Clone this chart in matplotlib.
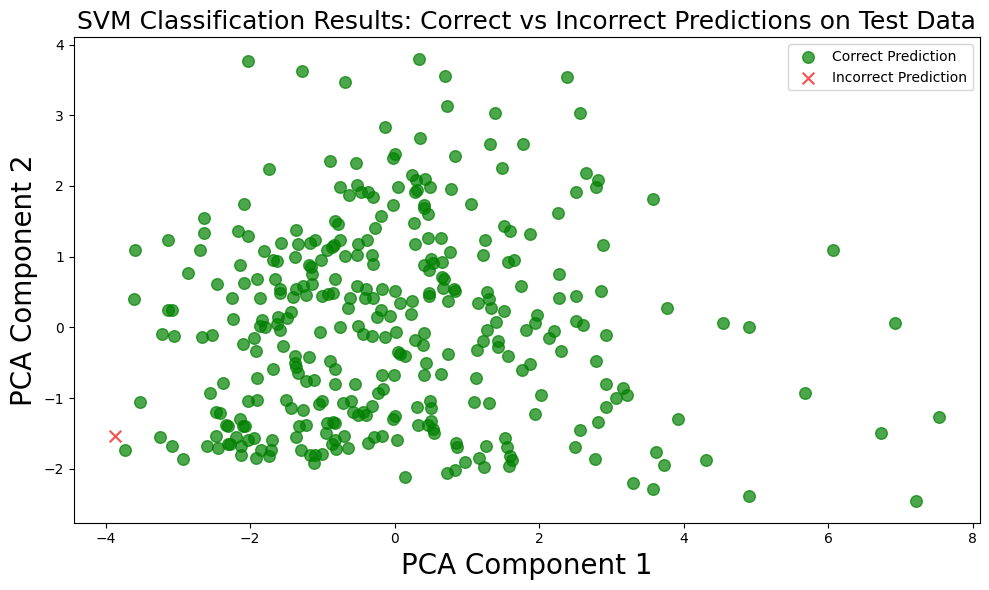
import numpy as np
from matplotlib import pyplot as plt

# PCA projections of test points that the SVM got right
correct_x = [-2.03, -1.28, -0.69, 0.34, -0.13, 0.35, -0.89, -0.54, 0.00, -0.02,
             -1.74, -0.75, -0.52, -0.63, -0.47, -0.37, -0.30, 0.05, 0.24, 0.29,
             0.28, 0.31, -0.02, -2.09, 0.70, 2.38, 0.72, 1.39, 2.57, 1.32,
             1.77, 0.83, 1.48, 2.65, 2.51, 0.42, 0.49, 0.78, 1.06, 0.41,
             -2.64, -3.14, -2.64, -2.17, -2.03, -3.59, -2.69, -2.14, -2.86, -2.46,
             -2.08, -2.25, -3.61, -3.14, -3.08, -2.24, -3.22, -3.05, -2.66, -2.53,
             -2.10, -0.19, 0.27, -0.82, -0.78, -1.36, -0.27, -1.57, -1.34, -1.17,
             -1.10, -0.76, -0.84, -0.87, -0.51, -0.38, -0.94, -1.81, -1.38, -1.69,
             -1.63, -1.02, -0.68, -0.52, -0.32, -0.30, -1.16, -1.19, -1.14, -1.90,
             -1.66, -1.14, -0.83, -1.59, -1.59, -1.36, -1.27, -1.41, -1.23, -1.86,
             -1.01, -0.92, -0.85, -0.52, -0.39, -0.62, -0.41, -0.30, -0.17, 0.00,
             0.24, 0.07, -0.65, -0.19, -0.24, -0.06, 0.22, -1.44, -1.61, -1.49,
             -1.83, -1.87, -1.80, -1.63, -1.59, -1.03, -0.75, -0.51, -0.44, -0.31,
             -0.13, 0.02, 0.28, -1.95, -1.54, -1.92, 0.05, 0.08, 0.14, -1.38,
             -1.19, -0.89, 0.41, 0.46, 2.26, 1.52, 1.60, 1.87, 0.46, 0.64,
             1.25, 0.28, 0.76, 1.22, 0.50, 0.41, 0.53, 0.65, 0.47, 1.57,
             1.65, 2.28, 0.65, 0.68, 0.67, 0.82, 0.84, 1.75, 0.47, 0.48,
             0.74, 1.28, 1.30, 1.15, 1.33, 2.28, 2.51, 1.52, 1.40, 1.97,
             1.94, 2.51, 2.61, 1.28, 1.82, 2.20, 2.14, 0.41, 0.39, 1.22,
             1.43, 1.43, 1.14, 0.74, 1.57, 2.30, 0.43, 1.87, -2.37, -2.55,
             -3.52, -2.03, -2.47, -2.42, -2.14, -2.34, -2.31, -2.10, -2.07, -2.47,
             -2.19, -3.25, -3.08, -3.73, -2.93, -2.59, -2.44, -2.31, -2.28, -2.12,
             -2.13, -2.03, -1.38, -1.36, -1.34, -0.82, -1.68, -1.91, -1.22, -1.12,
             -0.82, -0.55, -0.18, -0.01, -0.23, -0.16, 0.40, -1.90, -1.51, -1.43,
             -1.27, -1.05, -1.01, -0.72, -0.61, -0.32, -0.57, -0.51, -0.44, -0.39,
             0.00, -0.02, 0.31, -1.33, -1.23, -0.94, -0.85, -0.82, -0.95, -1.37,
             -1.94, -1.70, 0.32, -1.85, -1.71, -1.74, -1.92, -1.30, -1.17, -1.10,
             -1.00, -1.11, -0.86, -0.82, -0.70, -0.81, -0.65, -0.37, -0.29, -0.18,
             0.03, 0.14, 0.64, 1.13, 1.76, 2.02, 0.49, 0.51, 1.10, 1.30,
             1.94, 0.46, 0.51, 0.53, 0.54, 0.85, 0.86, 1.26, 1.53, 1.55,
             1.59, 1.62, 1.58, 1.17, 1.24, 0.98, 0.84, 0.73, 2.56, 2.50,
             2.81, 2.79, 3.57, 2.88, 6.06, 2.85, 3.77, 2.92, 4.54, 4.91,
             6.92, 2.79, 2.92, 3.16, 3.21, 3.06, 2.93, 2.82, 5.68, 3.92,
             7.53, 6.73, 2.77, 3.61, 3.73, 4.31, 3.30, 3.57, 4.91, 7.22]
correct_y = [3.77, 3.62, 3.47, 3.79, 2.84, 2.68, 2.36, 2.32, 2.45, 2.39,
             2.24, 1.99, 2.02, 1.87, 1.91, 1.91, 1.85, 1.99, 2.15, 2.08,
             1.91, 1.95, 1.73, 1.75, 3.56, 3.54, 3.13, 3.03, 3.03, 2.59,
             2.60, 2.43, 2.26, 2.19, 1.92, 2.10, 1.98, 1.96, 1.75, 1.73,
             1.55, 1.24, 1.34, 1.37, 1.29, 1.09, 1.09, 0.88, 0.77, 0.61,
             0.63, 0.42, 0.40, 0.25, 0.24, 0.12, -0.10, -0.12, -0.14, -0.11,
             -0.23, 1.57, 1.47, 1.50, 1.46, 1.38, 1.40, 1.20, 1.18, 1.19,
             1.24, 1.24, 1.16, 1.14, 1.18, 1.23, 1.09, 1.08, 1.00, 0.95,
             0.94, 0.96, 1.01, 1.02, 1.03, 0.90, 0.86, 0.88, 0.76, 0.68,
             0.68, 0.62, 0.68, 0.54, 0.49, 0.54, 0.59, 0.43, 0.46, 0.41,
             0.45, 0.47, 0.48, 0.58, 0.55, 0.42, 0.42, 0.42, 0.55, 0.51,
             0.38, 0.34, 0.28, 0.24, 0.15, 0.16, 0.19, 0.22, 0.15, 0.14,
             0.11, 0.02, 0.00, 0.05, -0.04, -0.07, 0.01, 0.02, -0.10, -0.12,
             -0.13, -0.07, -0.18, -0.15, -0.26, -0.33, -0.35, -0.38, -0.41, -0.40,
             -0.42, -0.48, 1.69, 1.60, 1.62, 1.43, 1.37, 1.32, 1.26, 1.26,
             1.24, 1.18, 1.06, 1.03, 0.97, 0.88, 0.91, 0.93, 0.81, 0.92,
             0.96, 0.76, 0.71, 0.68, 0.56, 0.54, 0.52, 0.58, 0.49, 0.44,
             0.38, 0.50, 0.40, 0.34, 0.28, 0.42, 0.44, 0.23, 0.08, 0.17,
             0.06, 0.09, 0.04, -0.04, -0.04, -0.05, -0.15, -0.08, -0.25, -0.19,
             -0.19, -0.27, -0.32, -0.37, -0.41, -0.33, -0.51, -0.52, -0.78, -0.93,
             -1.05, -1.04, -1.20, -1.21, -1.30, -1.38, -1.39, -1.40, -1.40, -1.53,
             -1.55, -1.55, -1.67, -1.73, -1.86, -1.68, -1.71, -1.65, -1.65, -1.68,
             -1.80, -1.59, -0.51, -0.56, -0.64, -0.59, -0.59, -0.71, -0.76, -0.74,
             -0.80, -0.80, -0.67, -0.67, -0.93, -0.87, -0.67, -1.03, -1.03, -1.14,
             -1.17, -1.09, -1.04, -1.07, -1.04, -1.11, -1.20, -1.24, -1.19, -1.24,
             -1.25, -1.30, -1.12, -1.40, -1.38, -1.35, -1.34, -1.35, -1.50, -1.55,
             -1.56, -1.59, -1.38, -1.74, -1.74, -1.82, -1.85, -1.74, -1.81, -1.81,
             -1.79, -1.92, -1.65, -1.59, -1.54, -1.72, -1.71, -1.64, -1.55, -1.54,
             -1.59, -2.12, -0.66, -0.72, -0.60, -0.96, -1.04, -1.14, -1.06, -1.07,
             -1.22, -1.38, -1.32, -1.43, -1.49, -1.63, -1.69, -1.68, -1.57, -1.69,
             -1.82, -1.87, -1.96, -1.85, -1.98, -1.90, -2.01, -2.06, -1.45, -1.69,
             2.09, 1.99, 1.81, 1.16, 1.09, 0.52, 0.27, -0.11, 0.06, 0.00,
             0.06, -0.48, -0.80, -0.86, -0.95, -1.00, -1.13, -1.34, -0.93, -1.29,
             -1.27, -1.49, -1.86, -1.76, -1.95, -1.87, -2.20, -2.28, -2.38, -2.45]

# the one misclassified point
wrong_x = [-3.87]
wrong_y = [-1.54]

plt.figure(figsize=(10, 6), dpi=100)

plt.scatter(correct_x, correct_y, c='green', alpha=0.7, s=70, label='Correct Prediction')
plt.scatter(wrong_x, wrong_y, c='red', marker='x', alpha=0.7, s=70, label='Incorrect Prediction')

plt.title('SVM Classification Results: Correct vs Incorrect Predictions on Test Data', fontsize=18)
plt.xlabel('PCA Component 1', fontsize=20)
plt.ylabel('PCA Component 2', fontsize=20)
plt.legend(loc='upper right')

plt.tight_layout()
plt.savefig('out.png', bbox_inches='tight')
